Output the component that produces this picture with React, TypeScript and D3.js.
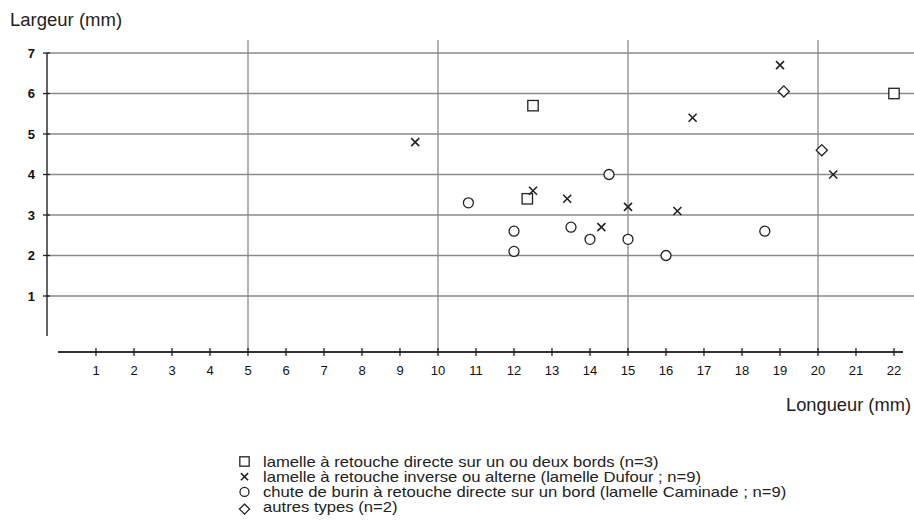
import * as d3 from "d3";

const width = 914;
const height = 524;

// data (longueur, largeur in mm)
const directeLen = [12.5, 22, 12.35];
const directeWid = [5.7, 6.0, 3.4];
const dufourLen = [9.4, 19, 16.7, 20.4, 12.5, 13.4, 15, 16.3, 14.3];
const dufourWid = [4.8, 6.7, 5.4, 4.0, 3.6, 3.4, 3.2, 3.1, 2.7];
const caminadeLen = [10.8, 12, 12, 13.5, 14, 15, 16, 18.6, 14.5];
const caminadeWid = [3.3, 2.6, 2.1, 2.7, 2.4, 2.4, 2.0, 2.6, 4.0];
const autresLen = [19.1, 20.1];
const autresWid = [6.05, 4.6];

const xTicks = d3.range(1, 23);
const yTicks = [1, 2, 3, 4, 5, 6, 7];
const xGrid = [5, 10, 15, 20];

const legendLabels = [
  "lamelle à retouche directe sur un ou deux bords (n=3)",
  "lamelle à retouche inverse ou alterne (lamelle Dufour ; n=9)",
  "chute de burin à retouche directe sur un bord (lamelle Caminade ; n=9)",
  "autres types (n=2)",
];
const legendShapes = ["square", "cross", "circle", "diamond"];

const font = "'Liberation Sans', Arial, Helvetica, sans-serif";
const ink = "#222";

const x = d3.scaleLinear().domain([0, 22]).range([58, 894]);
const y = d3.scaleLinear().domain([0, 7]).range([336.5, 53]);
const xAxisY = 352;
const yAxisX = 47;

function Marker({ shape, cx, cy, s = 1 }: { shape: string; cx: number; cy: number; s?: number }) {
  const sw = 1.3;
  if (shape === "square") {
    const h = 5.2 * s;
    return <rect x={cx - h} y={cy - h} width={2 * h} height={2 * h} fill="white" stroke={ink} strokeWidth={sw} />;
  }
  if (shape === "cross") {
    const h = 4 * s;
    return (
      <path
        d={`M${cx - h},${cy - h}L${cx + h},${cy + h}M${cx - h},${cy + h}L${cx + h},${cy - h}`}
        stroke={ink}
        strokeWidth={1.6}
        fill="none"
      />
    );
  }
  if (shape === "circle") {
    return <circle cx={cx} cy={cy} r={5 * s} fill="white" stroke={ink} strokeWidth={sw} />;
  }
  const h = 5.6 * s;
  return (
    <path
      d={`M${cx},${cy - h}L${cx + h},${cy}L${cx},${cy + h}L${cx - h},${cy}Z`}
      fill="white"
      stroke={ink}
      strokeWidth={sw}
    />
  );
}

export default function App() {
  const series = [
    { shape: "square", xs: directeLen, ys: directeWid },
    { shape: "cross", xs: dufourLen, ys: dufourWid },
    { shape: "circle", xs: caminadeLen, ys: caminadeWid },
    { shape: "diamond", xs: autresLen, ys: autresWid },
  ];

  return (
    <svg
      width={width}
      height={height}
      style={{ position: "absolute", left: 0, top: 0, background: "white" }}
      fontFamily={font}
    >
      {/* grid */}
      {yTicks.map((t) => (
        <line key={"hy" + t} x1={yAxisX} x2={width} y1={y(t)} y2={y(t)} stroke="#8a8a8a" strokeWidth={1.3} />
      ))}
      {xGrid.map((t) => (
        <line key={"vx" + t} x1={x(t)} x2={x(t)} y1={40} y2={xAxisY} stroke="#8a8a8a" strokeWidth={1.3} />
      ))}

      {/* y axis */}
      <line x1={yAxisX} x2={yAxisX} y1={y(7)} y2={336} stroke={ink} strokeWidth={1.4} />
      {yTicks.map((t) => (
        <g key={"yt" + t}>
          <line x1={yAxisX - 4} x2={yAxisX + 3} y1={y(t)} y2={y(t)} stroke={ink} strokeWidth={1.3} />
          <text x={35} y={y(t)} dy="0.36em" textAnchor="end" fontSize={13} fontWeight="bold" fill="#111">
            {t}
          </text>
        </g>
      ))}

      {/* x axis */}
      <line x1={x(0)} x2={903} y1={xAxisY} y2={xAxisY} stroke="#333" strokeWidth={2} />
      {xTicks.map((t) => (
        <g key={"xt" + t}>
          <line x1={x(t)} x2={x(t)} y1={xAxisY - 4} y2={xAxisY + 4} stroke={ink} strokeWidth={1.3} />
          <text x={x(t)} y={375} textAnchor="middle" fontSize={13} fill="#111">
            {t}
          </text>
        </g>
      ))}

      <text x={10} y={26} fontSize={18.5} fill="#222">
        Largeur (mm)
      </text>
      <text x={911} y={411} textAnchor="end" fontSize={18.3} fill="#222">
        Longueur (mm)
      </text>

      {/* points */}
      {series.map((sr) =>
        sr.xs.map((v, i) => (
          <Marker key={sr.shape + i} shape={sr.shape} cx={x(v)} cy={y(sr.ys[i])} />
        ))
      )}

      {/* legend: glyphs widened a little so lines stay tight like the original */}
      {legendLabels.map((lab, i) => {
        const cy = 461.5 + i * 15.2;
        return (
          <g key={"lg" + i}>
            <Marker shape={legendShapes[i]} cx={244.5} cy={cy + (i === 3 ? 2 : 0)} s={0.9} />
            <text
              transform={`translate(263,${cy}) scale(1.19,1)`}
              dy="0.36em"
              fontSize={14}
              fill="#222"
            >
              {lab}
            </text>
          </g>
        );
      })}
    </svg>
  );
}
